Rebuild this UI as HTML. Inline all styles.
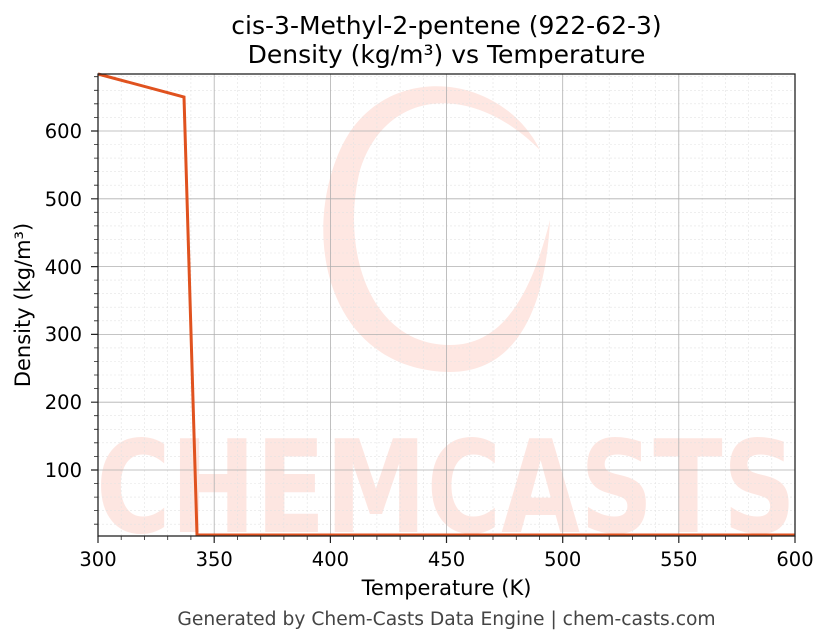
<!DOCTYPE html>
<html><head><meta charset="utf-8"><style>
body{margin:0;background:#fff;}
svg{display:block;font-family:"DejaVu Sans","Liberation Sans",sans-serif;}
</style></head><body>
<svg width="830" height="644" viewBox="0 0 830 644" xmlns="http://www.w3.org/2000/svg">
<rect width="830" height="644" fill="#fff"/>
<g opacity="0.18" fill="#f77a5e">
<text x="446" y="532" font-size="128" font-weight="bold" text-anchor="middle" textLength="700" lengthAdjust="spacingAndGlyphs">CHEMCASTS</text>
<path d="M540 150 C500 70 380 60 340 150 C300 240 330 370 450 372 C510 372 545 320 550 220 C530 300 500 345 450 345 C370 345 340 250 360 170 C385 90 470 80 540 150 Z"/>
</g>
<g stroke="#e3e3e3" stroke-width="0.6" stroke-dasharray="2,2">
<path d="M121.2 74V536M144.5 74V536M167.7 74V536M190.9 74V536M237.5 74V536M260.7 74V536M283.9 74V536M307.2 74V536M353.6 74V536M376.9 74V536M400.1 74V536M423.3 74V536M469.8 74V536M493 74V536M516.3 74V536M539.5 74V536M586 74V536M609.2 74V536M632.4 74V536M655.7 74V536M702.1 74V536M725.4 74V536M748.6 74V536M771.8 74V536"/>
<path d="M98 524.2H795M98 510.6H795M98 497.1H795M98 483.5H795M98 456.4H795M98 442.8H795M98 429.3H795M98 415.7H795M98 388.6H795M98 375H795M98 361.5H795M98 347.9H795M98 320.8H795M98 307.2H795M98 293.7H795M98 280.1H795M98 253H795M98 239.4H795M98 225.9H795M98 212.3H795M98 185.2H795M98 171.6H795M98 158.1H795M98 144.5H795M98 117.4H795M98 103.8H795M98 90.3H795M98 76.7H795"/>
</g>
<g stroke="#b0b0b0" stroke-width="0.8">
<path d="M214.2 74V536M330.4 74V536M446.5 74V536M562.7 74V536M678.8 74V536"/>
<path d="M98 470H795M98 402.2H795M98 334.4H795M98 266.6H795M98 198.8H795M98 131H795"/>
</g>
<polyline points="98,74 184,97 197,535 795,535" fill="none" stroke="#e0521f" stroke-width="3"/>
<rect x="98" y="74" width="697" height="462" fill="none" stroke="#222" stroke-width="1.3"/>
<g stroke="#222" stroke-width="1.2">
<path d="M98 536v7M214.2 536v7M330.4 536v7M446.5 536v7M562.7 536v7M678.8 536v7M795 536v7"/>
<path d="M98 470h-7M98 402.2h-7M98 334.4h-7M98 266.6h-7M98 198.8h-7M98 131h-7"/>
</g>
<g stroke="#222" stroke-width="0.8">
<path d="M121.2 536v4M144.5 536v4M167.7 536v4M190.9 536v4M237.5 536v4M260.7 536v4M283.9 536v4M307.2 536v4M353.6 536v4M376.9 536v4M400.1 536v4M423.3 536v4M469.8 536v4M493 536v4M516.3 536v4M539.5 536v4M586 536v4M609.2 536v4M632.4 536v4M655.7 536v4M702.1 536v4M725.4 536v4M748.6 536v4M771.8 536v4"/>
<path d="M98 524.2h-4M98 510.6h-4M98 497.1h-4M98 483.5h-4M98 456.4h-4M98 442.8h-4M98 429.3h-4M98 415.7h-4M98 388.6h-4M98 375h-4M98 361.5h-4M98 347.9h-4M98 320.8h-4M98 307.2h-4M98 293.7h-4M98 280.1h-4M98 253h-4M98 239.4h-4M98 225.9h-4M98 212.3h-4M98 185.2h-4M98 171.6h-4M98 158.1h-4M98 144.5h-4M98 117.4h-4M98 103.8h-4M98 90.3h-4M98 76.7h-4"/>
</g>
<g font-size="19.5" fill="#000" text-anchor="middle">
<text x="98" y="566">300</text><text x="214.2" y="566">350</text><text x="330.4" y="566">400</text><text x="446.5" y="566">450</text><text x="562.7" y="566">500</text><text x="678.8" y="566">550</text><text x="795" y="566">600</text>
</g>
<g font-size="19.5" fill="#000" text-anchor="end">
<text x="82" y="477">100</text><text x="82" y="409">200</text><text x="82" y="341">300</text><text x="82" y="274">400</text><text x="82" y="206">500</text><text x="82" y="138">600</text>
</g>
<text x="446.5" y="595" font-size="21" text-anchor="middle">Temperature (K)</text>
<text transform="translate(30,305) rotate(-90)" font-size="21" text-anchor="middle">Density (kg/m³)</text>
<text x="446.5" y="34" font-size="25" text-anchor="middle">cis-3-Methyl-2-pentene (922-62-3)</text>
<text x="446.5" y="63" font-size="25" text-anchor="middle">Density (kg/m³) vs Temperature</text>
<text x="446.5" y="625" font-size="18.7" fill="#444" text-anchor="middle">Generated by Chem-Casts Data Engine | chem-casts.com</text>
</svg>
</body></html>
